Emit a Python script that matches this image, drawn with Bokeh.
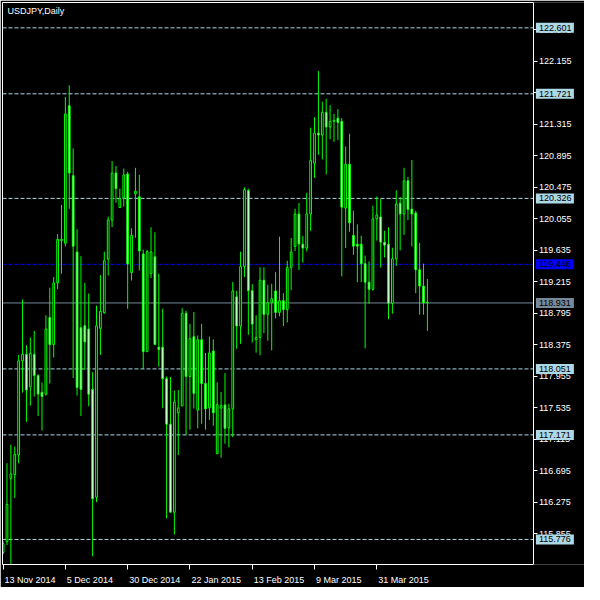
from bokeh.plotting import figure
from bokeh.models import (ColumnDataSource, Label, FixedTicker, PrintfTickFormatter, Range1d,
                          LinearAxis)
from bokeh.embed import file_html
from bokeh.resources import INLINE

# ---------------- data (USDJPY daily) ----------------
opens = [115.600, 115.746, 116.591, 116.643, 116.903, 118.159, 118.246, 117.813, 118.246, 117.960,
         117.739, 117.713, 118.736, 118.376, 119.199, 119.763, 119.728, 121.561, 120.629, 119.611,
         118.601, 118.627, 118.584, 117.778, 116.339, 118.593, 118.801, 119.516, 120.035, 120.664,
         120.204, 120.334, 120.651, 119.338, 120.386, 120.347, 119.585, 118.281, 119.321, 119.546,
         118.341, 118.341, 117.921, 117.314, 116.140, 117.466, 117.557, 118.792, 117.951, 118.480,
         117.501, 118.441, 117.856, 117.531, 118.289, 116.920, 117.527, 117.570, 117.267, 117.518,
         119.013, 118.623, 119.416, 120.430, 119.095, 118.441, 118.471, 119.234, 118.779, 118.935,
         119.091, 118.805, 118.961, 118.844, 119.403, 119.685, 120.118, 119.715, 119.663, 120.118,
         120.794, 121.197, 121.171, 121.474, 121.279, 121.353, 121.396, 121.353, 120.196, 120.781,
         119.832, 119.715, 119.715, 119.455, 119.208, 119.113, 120.053, 120.079, 119.741, 119.715,
         118.926, 119.520, 120.261, 120.118, 120.560, 120.183, 120.131, 119.373, 119.156, 118.939]
highs = [115.755, 116.794, 117.041, 117.015, 118.237, 118.978, 118.367, 118.471, 118.558, 117.980,
         117.869, 118.766, 119.134, 119.277, 119.849, 120.239, 121.678, 121.834, 120.993, 119.914,
         119.555, 119.199, 119.056, 118.008, 118.896, 119.303, 119.615, 120.083, 120.824, 120.759,
         120.456, 120.724, 120.681, 119.927, 120.733, 120.642, 119.641, 119.641, 119.940, 119.875,
         119.321, 118.853, 117.951, 117.943, 117.761, 117.769, 118.861, 118.827, 118.653, 118.809,
         118.497, 118.653, 118.263, 118.484, 118.445, 117.873, 117.743, 117.995, 117.587, 119.212,
         119.095, 119.615, 120.473, 120.456, 119.182, 118.766, 119.407, 119.407, 119.173, 119.186,
         119.342, 119.815, 119.061, 119.494, 119.797, 120.187, 120.265, 119.823, 120.399, 121.270,
         121.409, 122.024, 121.617, 121.656, 121.569, 121.452, 121.517, 121.396, 121.019, 121.188,
         120.161, 119.979, 119.828, 119.563, 119.485, 120.226, 120.352, 120.317, 119.893, 119.940,
         119.667, 120.434, 120.343, 120.733, 120.612, 120.837, 120.161, 119.732, 119.455, 119.251]
lows = [115.581, 115.702, 115.450, 116.331, 116.794, 117.735, 117.345, 117.561, 117.683, 117.423,
        117.228, 117.696, 117.856, 118.203, 119.113, 119.321, 119.685, 120.187, 117.930, 117.696,
        117.423, 118.038, 117.553, 115.551, 116.274, 118.237, 118.788, 119.295, 119.944, 120.269,
        120.204, 120.217, 118.853, 119.230, 119.802, 119.364, 118.051, 118.281, 119.264, 118.376,
        118.081, 117.527, 116.058, 116.140, 115.841, 116.903, 117.557, 117.171, 117.241, 117.522,
        117.258, 117.319, 117.241, 117.371, 117.293, 116.920, 116.868, 117.054, 117.007, 117.141,
        118.320, 118.385, 119.277, 118.506, 118.402, 118.268, 118.233, 118.528, 118.428, 118.298,
        118.723, 118.753, 118.623, 118.671, 119.100, 119.624, 119.373, 119.468, 119.620, 119.893,
        120.599, 120.906, 120.846, 120.646, 121.114, 121.080, 121.106, 119.286, 119.663, 119.880,
        119.572, 119.208, 119.208, 118.324, 118.922, 119.095, 119.763, 119.403, 119.537, 118.714,
        118.788, 119.425, 119.633, 119.840, 120.035, 119.685, 119.061, 118.775, 118.775, 118.558]
closes = [115.720, 116.244, 116.651, 116.911, 118.159, 118.246, 117.769, 118.259, 117.964, 117.717,
          117.683, 118.584, 118.376, 119.199, 119.780, 119.780, 121.452, 120.664, 119.689, 117.804,
          117.778, 118.411, 117.713, 116.318, 118.627, 118.818, 119.494, 120.040, 120.664, 120.456,
          120.326, 120.638, 119.451, 119.832, 120.421, 119.624, 118.281, 119.615, 119.611, 118.376,
          118.311, 117.921, 117.314, 116.140, 117.609, 117.531, 118.792, 117.951, 118.454, 117.726,
          118.441, 117.856, 117.518, 118.263, 117.466, 117.574, 117.561, 117.258, 117.518, 119.091,
          118.623, 119.416, 120.443, 119.095, 118.649, 118.471, 119.234, 118.779, 118.935, 118.987,
          118.805, 118.961, 118.844, 119.403, 119.611, 120.118, 119.719, 119.663, 120.118, 120.833,
          121.197, 121.171, 121.474, 121.279, 121.353, 121.366, 121.340, 120.209, 120.781, 120.001,
          119.689, 119.689, 119.455, 119.208, 119.113, 120.053, 120.105, 119.741, 119.702, 118.926,
          119.520, 120.252, 120.118, 120.560, 120.178, 120.118, 119.373, 119.156, 118.931, 118.931]

date_tick_bars = [0, 16, 32, 48, 64, 80, 96]
date_tick_labels = ["13 Nov 2014", "5 Dec 2014", "30 Dec 2014", "22 Jan 2015",
                    "13 Feb 2015", "9 Mar 2015", "31 Mar 2015"]
price_ticks = [115.855, 116.275, 116.695, 117.115, 117.535, 117.955, 118.375, 118.795, 119.215,
               119.635, 120.055, 120.475, 120.895, 121.315, 121.735, 122.155, 122.575]
level_prices = [122.601, 121.721, 120.326, 118.051, 117.171, 115.776]
blue_level = 119.446
last_price = 118.931
title_text = "USDJPY,Daily"

# ---------------- layout ----------------
FONT = "Liberation Sans"
FS = 9
FRAME_W, FRAME_H = 582, 562
X_START, X_END = -0.15, 149.35      # frame spans chart + price-scale area
X_AXIS = 136.35                     # right edge of the chart (price scale line)
Y_START, Y_END = 115.442, 122.939
GREEN = "#00FF00"
LIGHTBLUE = "#ADD8E6"
BLUE = "#0000FF"
SLATE = "#778899"

ppb = FRAME_W / (X_END - X_START)          # pixels per bar
ppy = FRAME_H / (Y_END - Y_START)          # pixels per yen

n = len(opens)
src = ColumnDataSource(dict(
    x=list(range(n)),
    high=highs, low=lows,
    top=[max(o, c) for o, c in zip(opens, closes)],
    bottom=[min(o, c) for o, c in zip(opens, closes)],
    fill=["#FFFFFF" if c < o else "#000000" for o, c in zip(opens, closes)],
))

p = figure(frame_width=FRAME_W, frame_height=FRAME_H,
           x_range=Range1d(X_START, X_END), y_range=Range1d(Y_START, Y_END),
           y_axis_location=None, output_backend="svg", toolbar_location=None,
           min_border_left=2, min_border_top=2, min_border_right=0, min_border_bottom=20,
           background_fill_color="black", border_fill_color="black",
           outline_line_color=None)
p.xgrid.visible = False
p.ygrid.visible = False

# reference lines (end at the price scale)
lv_src = ColumnDataSource(dict(x0=[X_START] * len(level_prices), x1=[X_AXIS] * len(level_prices),
                               y=level_prices))
p.segment(x0="x0", y0="y", x1="x1", y1="y", source=lv_src, line_color=LIGHTBLUE,
          line_dash="4 2", line_width=1)
p.segment(x0=[X_START], y0=[blue_level], x1=[X_AXIS], y1=[blue_level], line_color=BLUE,
          line_dash="4 2", line_width=1)
p.segment(x0=[X_START], y0=[last_price], x1=[X_AXIS], y1=[last_price], line_color=SLATE,
          line_width=1)

# candles
p.segment(x0="x", y0="low", x1="x", y1="high", source=src, line_color=GREEN, line_width=1)
p.vbar(x="x", width=0.45, top="top", bottom="bottom", source=src,
       fill_color="fill", line_color=GREEN, line_width=1)

# x axis: tick marks at bars, labels left-aligned after ticks
char_w = {"0": .556, "1": .556, "2": .556, "3": .556, "4": .556, "5": .556, "6": .556,
          "7": .556, "8": .556, "9": .556, " ": .278, "N": .722, "o": .556, "v": .5,
          "D": .722, "e": .556, "c": .5, "J": .5, "a": .556, "n": .556, "F": .611,
          "b": .556, "M": .833, "r": .333}
centers = []
for b, lab in zip(date_tick_bars, date_tick_labels):
    w = sum(char_w.get(ch, .556) for ch in lab) * FS
    centers.append(round(b + (1.5 + w / 2) / ppb, 4))
xa = p.xaxis[0]
xa.bounds = (X_START, X_AXIS)
xa.ticker = FixedTicker(ticks=centers, minor_ticks=date_tick_bars)
xa.major_label_overrides = {c: lab for c, lab in zip(centers, date_tick_labels)}
xa.major_tick_out = 0
xa.major_tick_in = 0
xa.minor_tick_out = 5
xa.minor_tick_in = 0
xa.minor_tick_line_color = "white"
xa.axis_line_color = "white"
xa.major_label_standoff = 5
xa.major_label_text_color = "white"
xa.major_label_text_font = FONT
xa.major_label_text_font_size = f"{FS}px"

# frame lines on the left and top
def border_axis(side):
    ax = LinearAxis(ticker=FixedTicker(ticks=[]), major_tick_out=0, major_tick_in=0,
                    minor_tick_out=0, minor_tick_in=0, major_label_standoff=0,
                    axis_line_color="white", axis_line_width=1)
    if side == "above":
        ax.bounds = (X_START, X_AXIS)
    p.add_layout(ax, side)

border_axis("left")
border_axis("above")

# price scale, fixed at the chart's right edge
ya = LinearAxis(fixed_location=X_AXIS, ticker=FixedTicker(ticks=price_ticks),
                formatter=PrintfTickFormatter(format="%.3f"))
ya.major_tick_out = 4
ya.major_tick_in = 0
ya.minor_tick_out = 0
ya.minor_tick_in = 0
ya.major_tick_line_color = "white"
ya.axis_line_color = "white"
ya.major_label_standoff = 1
ya.major_label_text_color = "white"
ya.major_label_text_font = FONT
ya.major_label_text_font_size = f"{FS}px"
p.add_layout(ya, "right")

# price boxes on the scale (drawn above the scale's labels)
box_prices = level_prices + [blue_level, last_price]
box_colors = [LIGHTBLUE] * len(level_prices) + [BLUE, SLATE]
box_src = ColumnDataSource(dict(y=box_prices, color=box_colors))
boxes = p.hbar(y="y", left=X_AXIS + 2 / ppb, right=X_AXIS + 40 / ppb, height=10 / ppy,
               source=box_src, fill_color="color", line_color=None)
boxes.level = "annotation"
for v in box_prices:
    p.add_layout(Label(x=X_AXIS, y=v, x_offset=5, text=f"{v:.3f}", text_align="left",
                       text_baseline="middle", text_color="black", text_font=FONT,
                       text_font_size=f"{FS}px", level="overlay"))

p.add_layout(Label(x=X_START, y=Y_END, x_offset=5, y_offset=-3, text=title_text,
                   text_align="left", text_baseline="top", text_color="white",
                   text_font=FONT, text_font_size=f"{FS}px"))

open("out.html", "w").write(file_html(p, INLINE))
